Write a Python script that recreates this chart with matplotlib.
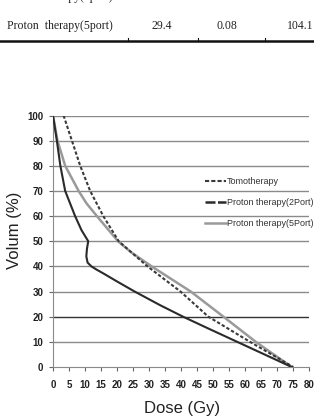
import numpy as np
import matplotlib
matplotlib.use("Agg")
from matplotlib import pyplot as plt
from matplotlib.lines import Line2D

# DVH (dose Gy, volume %)
tomo_dose = [3.3, 5.9, 8.5, 11.6, 15.7, 20.5, 25.0, 29.5, 39.8, 48.5, 61.5, 75.0]
tomo_vol = [100, 90, 80, 70, 60, 50, 45, 40, 30, 20, 10, 0]

p2_dose = [0.0, 1.2, 2.3, 3.8, 6.9, 8.9, 11.0, 10.6, 10.4, 10.8, 12.0, 13.5, 16.0, 20.0, 25.5, 33.4, 40.6, 49.0, 57.5, 66.0, 74.5]
p2_vol = [100, 90, 80, 70, 60, 54.4, 50, 47, 44, 41.5, 40, 38.8, 37, 34, 30, 24.6, 20, 15, 10, 5, 0]

p5_dose = [0.0, 1.4, 3.8, 8.0, 10.5, 13.7, 20.3, 24.5, 30.8, 43.0, 53.2, 63.3, 74.5]
p5_vol = [100, 90, 80, 70, 65, 60, 50, 45.5, 40, 30, 20, 10, 0]

series_names = ["Tomotherapy", "Proton therapy(2Port)", "Proton therapy(5Port)"]
xticks = list(range(0, 81, 5))
yticks = list(range(0, 101, 10))

table_row = ["Proton  therapy(5port)", "29.4", "0.08", "104.1"]
table_x = [7, 162, 227, 300]

narrow = ["Liberation Sans Narrow", "Liberation Sans", "DejaVu Sans"]

W, H = 314, 418
fig = plt.figure(figsize=(W / 100, H / 100), dpi=100)
fig.patch.set_facecolor("white")

def fx(px): return px / W
def fy(py): return 1 - py / H

# table fragment at the top
fig.text(fx(7), fy(-3), "Proton  therapy(2port)", family="Liberation Serif",
         fontsize=8.5, va="center", ha="left", color="#222")
for i, (t, x) in enumerate(zip(table_row, table_x)):
    fig.text(fx(x), fy(26), t, family="Liberation Serif", fontsize=8.5,
             va="center", ha="left" if i == 0 else "center", color="#222")
fig.add_artist(Line2D([0, 1], [fy(40.5), fy(40.5)], color="#111", lw=1.8))
for x in [128, 198, 265]:
    fig.add_artist(Line2D([fx(x), fx(x)], [fy(40.5), fy(38)], color="#111", lw=0.8))

ax = fig.add_axes([fx(53), fy(367), fx(309.3) - fx(53), fy(115.5) - fy(367)])
ax.set_xlim(0, 80)
ax.set_ylim(0, 100)

for v in yticks[1:]:
    ax.axhline(v, color="#333" if v == 20 else "#8a8a8a", lw=1.0, zorder=1)

ax.plot(p5_dose, p5_vol, color="#9a9a9a", lw=1.8, zorder=3)
ax.plot(tomo_dose, tomo_vol, color="#3a3a3a", lw=1.5, ls=(0, (1.6, 1.0)), zorder=4)
ax.plot(p2_dose, p2_vol, color="#2a2a2a", lw=1.5, zorder=4)

for s in ["top", "right"]:
    ax.spines[s].set_visible(False)
ax.spines["left"].set_color("#8a8a8a")
ax.spines["bottom"].set_color("#8a8a8a")

ax.set_xticks(xticks)
ax.set_yticks(yticks)
ax.tick_params(axis="x", length=3, width=0.8, color="#666", pad=6.5)
ax.tick_params(axis="y", length=3, width=0.8, color="#666", pad=4)
for lab in ax.get_xticklabels() + ax.get_yticklabels():
    lab.set_family(narrow)
    lab.set_fontweight("bold")
    lab.set_fontsize(7)
    lab.set_color("#222")

handles = [Line2D([], [], color="#3a3a3a", lw=1.5, ls=(0, (2, 1))),
           Line2D([], [], color="#2a2a2a", lw=1.8, ls=(0, (4, 1))),
           Line2D([], [], color="#9a9a9a", lw=1.8)]
leg = ax.legend(handles, series_names, loc="upper left",
                bbox_to_anchor=((205 - 53) / 256.3, (367 - 177) / 251.5),
                frameon=False, borderpad=0, borderaxespad=0, handlelength=2.3,
                handletextpad=0.15, labelspacing=1.35, prop={"family": narrow, "size": 6.5})
for t in leg.get_texts():
    t.set_color("#333")

fig.text(fx(182), fy(408), "Dose (Gy)", family="Liberation Sans", fontsize=12,
         ha="center", va="center", color="#222")
fig.text(fx(15), fy(230), "Volum (%)", family="Liberation Sans", fontsize=12,
         ha="center", va="center", rotation=90, color="#222")

fig.savefig("out.png", dpi=100)
